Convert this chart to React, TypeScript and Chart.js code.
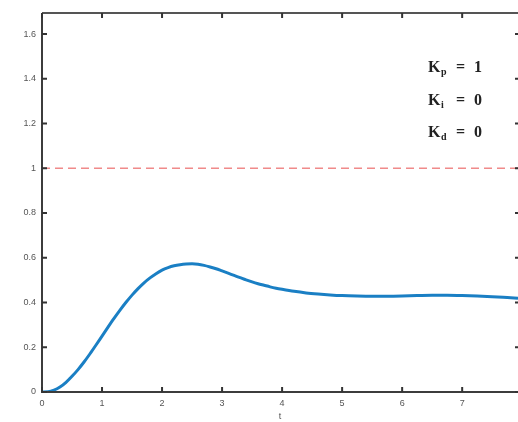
import React, { useEffect, useRef } from "react";
import { Chart, registerables } from "chart.js";

Chart.register(...registerables);

// Step response samples (time, output)
const timeValues = [
  0, 0.1, 0.2, 0.3, 0.4, 0.5, 0.6, 0.7, 0.8, 0.9, 1.0, 1.1, 1.2, 1.3, 1.4, 1.5,
  1.6, 1.7, 1.8, 1.9, 2.0, 2.1, 2.2, 2.3, 2.4, 2.5, 2.6, 2.7, 2.8, 2.9, 3.0,
  3.1, 3.2, 3.3, 3.4, 3.5, 3.6, 3.7, 3.8, 3.9, 4.0, 4.2, 4.4, 4.6, 4.8, 5.0,
  5.25, 5.5, 5.75, 6.0, 6.25, 6.5, 6.75, 7.0, 7.25, 7.5, 7.75, 7.93,
];
const responseValues = [
  0, 0.001, 0.008, 0.022, 0.043, 0.07, 0.1, 0.134, 0.171, 0.21, 0.25, 0.29,
  0.329, 0.366, 0.401, 0.433, 0.462, 0.488, 0.51, 0.529, 0.545, 0.556, 0.564,
  0.569, 0.572, 0.573, 0.571, 0.566, 0.559, 0.551, 0.541, 0.531, 0.521, 0.511,
  0.501, 0.492, 0.484, 0.477, 0.47, 0.464, 0.459, 0.45, 0.443, 0.438, 0.434,
  0.431, 0.429, 0.428, 0.428, 0.429, 0.431, 0.432, 0.432, 0.431, 0.429, 0.426,
  0.422, 0.419,
];
const referenceLevel = 1;
const xMin = 0;
const xMax = 7.93;
const yMin = 0;
const yMax = 1.694;
const xTickValues = [0, 1, 2, 3, 4, 5, 6, 7];
const yTickValues = [0, 0.2, 0.4, 0.6, 0.8, 1, 1.2, 1.4, 1.6];
const gainLabels = [
  { sub: "p", value: "1" },
  { sub: "i", value: "0" },
  { sub: "d", value: "0" },
];

const framePlugin = {
  id: "frame",
  afterDraw(chart: any) {
    const { ctx, chartArea: a, scales } = chart;
    const x = scales.x;
    const y = scales.y;
    ctx.save();
    ctx.strokeStyle = "#3c3c3c";
    ctx.lineWidth = 2;
    ctx.lineCap = "butt";
    ctx.beginPath();
    ctx.moveTo(a.left, a.top);
    ctx.lineTo(a.left, a.bottom);
    ctx.lineTo(a.right, a.bottom);
    ctx.stroke();
    ctx.strokeStyle = "#555";
    ctx.beginPath();
    ctx.moveTo(a.left, a.top);
    ctx.lineTo(a.right, a.top);
    ctx.stroke();
    ctx.strokeStyle = "#333";
    ctx.beginPath();
    xTickValues.forEach((v) => {
      const px = x.getPixelForValue(v);
      ctx.moveTo(px, a.bottom);
      ctx.lineTo(px, a.bottom - 5);
      ctx.moveTo(px, a.top);
      ctx.lineTo(px, a.top + 5);
    });
    yTickValues.forEach((v) => {
      const py = y.getPixelForValue(v);
      ctx.moveTo(a.left, py);
      ctx.lineTo(a.left + 5, py);
      ctx.moveTo(a.right - 3, py);
      ctx.lineTo(a.right, py);
    });
    ctx.stroke();

    // gain annotation
    ctx.fillStyle = "#222";
    ctx.textBaseline = "alphabetic";
    const baseX = x.getPixelForValue(6.43);
    const baselines = [1.43, 1.285, 1.14];
    gainLabels.forEach((g, i) => {
      const by = y.getPixelForValue(baselines[i]);
      ctx.font = "bold 16px 'Liberation Serif', 'DejaVu Serif', serif";
      ctx.fillText("K", baseX, by);
      ctx.font = "bold 10px 'Liberation Serif', 'DejaVu Serif', serif";
      ctx.fillText(g.sub, baseX + 13, by + 3);
      ctx.font = "bold 16px 'Liberation Serif', 'DejaVu Serif', serif";
      ctx.fillText("=", baseX + 28, by);
      ctx.fillText(g.value, baseX + 46, by);
    });
    ctx.restore();
  },
};

export default function App() {
  const canvasRef = useRef<HTMLCanvasElement | null>(null);

  useEffect(() => {
    document.body.style.margin = "0";
    const canvas = canvasRef.current;
    if (!canvas) return;
    const points = timeValues.map((t, i) => ({ x: t, y: responseValues[i] }));
    const refLine = [
      { x: xMin, y: referenceLevel },
      { x: xMax, y: referenceLevel },
    ];
    const tickFont = { family: "'Liberation Sans', Arial, sans-serif", size: 9 };
    const chart = new Chart(canvas, {
      type: "line",
      data: {
        datasets: [
          {
            data: refLine,
            borderColor: "#f08a8a",
            borderWidth: 1.4,
            borderDash: [8, 5],
            pointRadius: 0,
            fill: false,
          },
          {
            data: points,
            borderColor: "#1a7fc4",
            borderWidth: 3,
            pointRadius: 0,
            cubicInterpolationMode: "monotone",
            fill: false,
          },
        ],
      },
      options: {
        responsive: false,
        animation: false,
        devicePixelRatio: 1,
        layout: { padding: { top: 13, right: 0, left: 0, bottom: 0 } },
        plugins: {
          legend: { display: false },
          tooltip: { enabled: false },
        },
        scales: {
          x: {
            type: "linear",
            min: xMin,
            max: xMax,
            grid: { display: false, drawTicks: false },
            border: { display: false },
            ticks: {
              stepSize: 1,
              includeBounds: false,
              color: "#555",
              font: tickFont,
              padding: 6,
              maxRotation: 0,
            },
            title: {
              display: true,
              text: "t",
              color: "#555",
              font: { family: "'Liberation Sans', Arial, sans-serif", size: 9 },
              padding: { top: 0, bottom: 0 },
            },
            afterFit: (scale: any) => {
              scale.height = 30;
            },
          },
          y: {
            type: "linear",
            min: yMin,
            max: yMax,
            grid: { display: false, drawTicks: false },
            border: { display: false },
            ticks: {
              stepSize: 0.2,
              includeBounds: false,
              color: "#555",
              font: tickFont,
              padding: 6,
              callback: (v: any) => String(Number(Number(v).toFixed(1))),
            },
            afterFit: (scale: any) => {
              scale.width = 42;
            },
          },
        },
      },
      plugins: [framePlugin],
    } as any);
    return () => chart.destroy();
  }, []);

  return (
    <div style={{ position: "absolute", left: 0, top: 0, width: 518, height: 422, background: "#fff" }}>
      <canvas ref={canvasRef} width={518} height={422} />
    </div>
  );
}
